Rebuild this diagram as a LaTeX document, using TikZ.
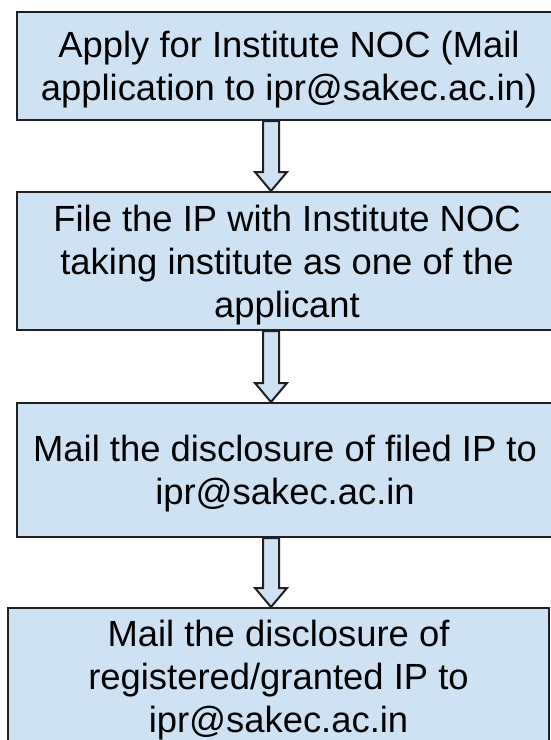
\documentclass[tikz,border=0pt]{standalone}
\usepackage{fontspec}
\setmainfont{Liberation Sans}
\usetikzlibrary{calc}
\definecolor{boxblue}{HTML}{CFE2F3}
\definecolor{edge}{HTML}{202020}
\tikzset{
  stepbox/.style={draw=edge, fill=boxblue, line width=1pt, inner sep=0pt, align=center,
    text depth=-2pt, font=\fontsize{18.2}{21.5}\selectfont},
  blockarrow/.style={draw=edge, fill=boxblue, line width=1pt, line join=miter}
}

\begin{document}
\begin{tikzpicture}[x=0.5pt,y=-0.5pt]
  \useasboundingbox (0,0) rectangle (551,740);
  \clip (0,0) rectangle (551,740);
  % the four steps, top to bottom
  \node[stepbox, minimum width=272pt, minimum height=54pt] (noc) at (289,66)
    {Apply for Institute NOC (Mail\\application to ipr@sakec.ac.in)};
  \node[stepbox, minimum width=270pt, minimum height=69pt] (file) at (287,261)
    {File the IP with Institute NOC\\taking institute as one of the\\applicant};
  \node[stepbox, minimum width=268pt, minimum height=67pt] (disclose) at (285,470)
    {Mail the disclosure of filed IP to\\ipr@sakec.ac.in};
  \node[stepbox, minimum width=270.5pt, minimum height=68pt] (granted) at (278.5,676)
    {Mail the disclosure of\\registered/granted IP to\\ipr@sakec.ac.in};
  % hollow block arrows between the steps
  \coordinate (ax) at (271,0);
  \foreach \a/\b in {noc/file, file/disclose, disclose/granted} {
    \coordinate (top) at (\a.south -| ax);
    \coordinate (tip) at (\b.north -| ax);
    \draw[blockarrow] ($(top)+(-8,0)$) -- ($(tip)+(-8,-19)$) -- ($(tip)+(-16,-19)$) -- (tip)
      -- ($(tip)+(16,-19)$) -- ($(tip)+(8,-19)$) -- ($(top)+(8,0)$) -- cycle;
  }
\end{tikzpicture}
\end{document}
